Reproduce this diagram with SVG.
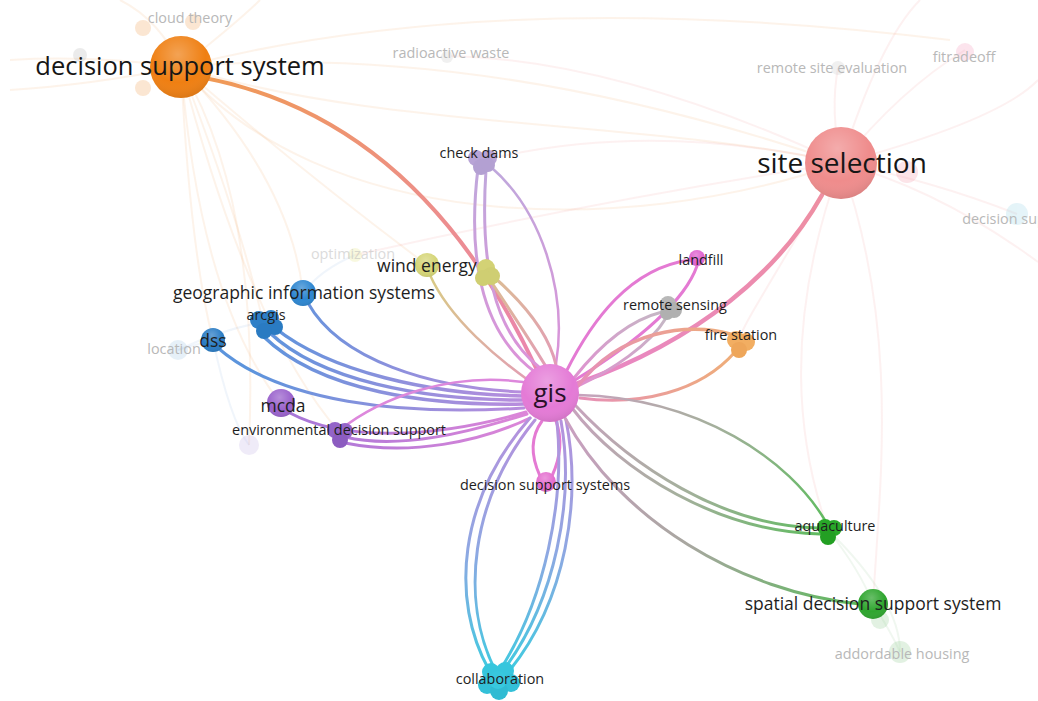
<svg xmlns="http://www.w3.org/2000/svg" width="1038" height="701" viewBox="0 0 1038 701">
<style>
text{font-family:"Open Sans","Noto Sans","Liberation Sans",sans-serif;text-anchor:middle}
.s{font-size:14.4px;fill:#1e1e1e}
.m{font-size:17.5px;fill:#1e1e1e}
.l{font-size:25.5px;fill:#161616}
.f{font-size:14.4px;fill:#b8b8b8}
.e{fill:none;stroke-linecap:round}
.bg{fill:none;stroke-width:2;opacity:.12}
.fn{opacity:.28}
.sh{fill:url(#shine)}
</style>
<defs>
<radialGradient id="shine" cx="0.45" cy="0.3" r="0.75">
<stop offset="0" stop-color="#fff" stop-opacity="0.28"/>
<stop offset="0.6" stop-color="#fff" stop-opacity="0"/>
<stop offset="1" stop-color="#000" stop-opacity="0.12"/>
</radialGradient>
<linearGradient id="gOr" gradientUnits="userSpaceOnUse" x1="205" y1="78" x2="536" y2="368"><stop offset="0" stop-color="#f09a55"/><stop offset="1" stop-color="#ea86b0"/></linearGradient>
<linearGradient id="gSite" gradientUnits="userSpaceOnUse" x1="822" y1="195" x2="578" y2="383"><stop offset="0" stop-color="#ee8fa2"/><stop offset="1" stop-color="#e886c6"/></linearGradient>
<linearGradient id="gBlue" gradientUnits="userSpaceOnUse" x1="260" y1="330" x2="525" y2="400"><stop offset="0" stop-color="#5c94dc"/><stop offset="1" stop-color="#b98ddd"/></linearGradient>
<linearGradient id="gPur" gradientUnits="userSpaceOnUse" x1="290" y1="420" x2="528" y2="405"><stop offset="0" stop-color="#a777d8"/><stop offset="1" stop-color="#dd86d8"/></linearGradient>
<linearGradient id="gCol" gradientUnits="userSpaceOnUse" x1="0" y1="425" x2="0" y2="675"><stop offset="0" stop-color="#b492dd"/><stop offset="0.5" stop-color="#8fa7e2"/><stop offset="1" stop-color="#3ecbe0"/></linearGradient>
<linearGradient id="gAq" gradientUnits="userSpaceOnUse" x1="575" y1="405" x2="825" y2="530"><stop offset="0" stop-color="#c7a3bd"/><stop offset="0.5" stop-color="#a3b09b"/><stop offset="1" stop-color="#5fbb5f"/></linearGradient>
<linearGradient id="gSp" gradientUnits="userSpaceOnUse" x1="565" y1="418" x2="860" y2="604"><stop offset="0" stop-color="#cb9fc2"/><stop offset="0.5" stop-color="#a7a79f"/><stop offset="1" stop-color="#5cb95c"/></linearGradient>
<linearGradient id="gCD" gradientUnits="userSpaceOnUse" x1="0" y1="165" x2="0" y2="370"><stop offset="0" stop-color="#bfa8dc"/><stop offset="1" stop-color="#dc92d8"/></linearGradient>
<linearGradient id="gWE" gradientUnits="userSpaceOnUse" x1="430" y1="270" x2="550" y2="380"><stop offset="0" stop-color="#d8cc84"/><stop offset="1" stop-color="#e39ab8"/></linearGradient>
<linearGradient id="gFS" gradientUnits="userSpaceOnUse" x1="735" y1="0" x2="578" y2="0"><stop offset="0" stop-color="#efae78"/><stop offset="1" stop-color="#e68fb8"/></linearGradient>
<linearGradient id="gRS" gradientUnits="userSpaceOnUse" x1="665" y1="310" x2="575" y2="385"><stop offset="0" stop-color="#c4b8c4"/><stop offset="1" stop-color="#e090d0"/></linearGradient>
</defs>

<g id="background-links">
<path class="bg" stroke="#f0a050" d="M181 67 Q 500 -15 950 40"/>
<path class="bg" stroke="#f0a050" d="M181 67 Q 480 40 841 163"/>
<path class="bg" stroke="#f0a050" d="M181 67 C 320 230, 620 240, 841 163"/>
<path class="bg" stroke="#f0a050" d="M181 67 C 380 130, 650 120, 841 163"/>
<path class="bg" stroke="#f0a050" d="M181 67 Q 190 250 213 340"/>
<path class="bg" stroke="#f0a050" d="M181 67 Q 240 220 263 322"/>
<path class="bg" stroke="#f0a050" d="M181 67 Q 290 180 303 293"/>
<path class="bg" stroke="#f0a050" d="M181 67 Q 200 300 281 404"/>
<path class="bg" stroke="#f0a050" d="M181 67 Q 250 330 340 433"/>
<path class="bg" stroke="#f0a050" d="M181 67 Q 300 170 427 265"/>
<path class="bg" stroke="#f0a050" d="M181 67 Q 90 55 10 60"/>
<path class="bg" stroke="#f0a050" d="M181 67 Q 90 85 10 90"/>
<path class="bg" stroke="#f0a050" d="M181 67 Q 160 20 120 0"/>
<path class="bg" stroke="#f0a050" d="M181 67 Q 240 20 260 0"/>
<path class="bg" stroke="#f0a050" d="M181 67 Q 260 200 249 445"/>
<path class="bg" stroke="#ee8a8a" d="M841 163 Q 940 190 1038 262"/>
<path class="bg" stroke="#ee8a8a" d="M841 163 Q 900 90 965 50"/>
<path class="bg" stroke="#ee8a8a" d="M841 163 Q 830 110 838 68"/>
<path class="bg" stroke="#ee8a8a" d="M841 163 Q 930 180 1017 214"/>
<path class="bg" stroke="#ee8a8a" d="M841 163 Q 880 40 920 0"/>
<path class="bg" stroke="#ee8a8a" d="M841 163 Q 1000 120 1038 80"/>
<path class="bg" stroke="#ee8a8a" d="M841 163 C 780 330, 800 450, 828 530"/>
<path class="bg" stroke="#ee8a8a" d="M841 163 C 900 330, 880 480, 873 604"/>
<path class="bg" stroke="#ee8a8a" d="M841 163 C 760 300, 740 330, 739 341"/>
<path class="bg" stroke="#ee8a8a" d="M841 163 Q 620 60 451 56"/>
<path class="bg" stroke="#ee8a8a" d="M841 163 Q 600 200 355 255"/>
<path class="bg" stroke="#ee8a8a" d="M841 163 Q 650 120 485 160"/>
<path class="bg" stroke="#80c080" d="M828 530 Q 860 570 873 604"/>
<path class="bg" stroke="#80c080" d="M828 530 Q 900 600 900 652"/>
<path class="bg" stroke="#80c080" d="M873 604 Q 890 630 900 652"/>
<path class="bg" stroke="#80b0e0" d="M213 340 Q 195 345 178 350"/>
<path class="bg" stroke="#80b0e0" d="M263 322 Q 220 330 178 350"/>
<path class="bg" stroke="#80b0e0" d="M303 293 Q 320 270 355 255"/>
<path class="bg" stroke="#80b0e0" d="M213 340 Q 230 420 249 445"/>
</g>

<g id="links">
<path class="e" stroke="url(#gOr)" stroke-width="4" d="M205 78 Q 420 120 536 368"/>
<path class="e" stroke="url(#gSite)" stroke-width="4.5" d="M822 195 C 780 270, 700 340, 578 383"/>
<path class="e" stroke="url(#gCD)" stroke-width="3" d="M478 168 C 468 250, 478 330, 535 372"/>
<path class="e" stroke="url(#gCD)" stroke-width="3" d="M486 170 C 480 260, 492 330, 540 368"/>
<path class="e" stroke="url(#gCD)" stroke-width="2.5" d="M492 168 C 540 210, 568 290, 556 364"/>
<path class="e" stroke="url(#gWE)" stroke-width="2.5" d="M430 275 C 450 320, 500 360, 528 380"/>
<path class="e" stroke="url(#gWE)" stroke-width="3" d="M490 280 C 510 310, 530 340, 545 365"/>
<path class="e" stroke="url(#gWE)" stroke-width="3" d="M495 278 C 520 300, 548 330, 556 365"/>
<path class="e" stroke="url(#gBlue)" stroke-width="3" d="M308 303 C 340 360, 430 388, 522 392"/>
<path class="e" stroke="url(#gBlue)" stroke-width="3.5" d="M275 328 C 330 372, 430 394, 523 396"/>
<path class="e" stroke="url(#gBlue)" stroke-width="3.5" d="M270 333 C 320 380, 420 400, 522 400"/>
<path class="e" stroke="url(#gBlue)" stroke-width="3.5" d="M263 336 C 320 392, 430 406, 524 404"/>
<path class="e" stroke="url(#gBlue)" stroke-width="3" d="M218 348 C 280 402, 400 416, 524 408"/>
<path class="e" stroke="url(#gPur)" stroke-width="3" d="M290 413 C 340 440, 430 440, 526 412"/>
<path class="e" stroke="url(#gPur)" stroke-width="3" d="M345 437 C 400 450, 470 432, 527 414"/>
<path class="e" stroke="url(#gPur)" stroke-width="3" d="M345 443 C 410 456, 480 442, 530 418"/>
<path class="e" stroke="#dd88dc" stroke-width="2.5" d="M523 382 C 450 372, 380 398, 340 430"/>
<path class="e" stroke="#e47ad3" stroke-width="3" d="M690 260 C 630 268, 592 320, 566 372"/>
<path class="e" stroke="#e47ad3" stroke-width="3" d="M697 266 C 685 300, 640 340, 575 380"/>
<path class="e" stroke="url(#gRS)" stroke-width="3" d="M662 312 C 630 320, 600 345, 574 378"/>
<path class="e" stroke="url(#gRS)" stroke-width="3" d="M666 318 C 650 345, 612 370, 578 386"/>
<path class="e" stroke="url(#gFS)" stroke-width="3.5" d="M730 334 C 690 322, 620 330, 578 386"/>
<path class="e" stroke="url(#gFS)" stroke-width="3" d="M735 352 C 700 392, 640 406, 580 398"/>
<path class="e" stroke="#e47ad3" stroke-width="3" d="M540 476 C 528 450, 534 432, 542 421"/>
<path class="e" stroke="#e47ad3" stroke-width="3" d="M552 476 C 564 450, 560 432, 556 421"/>
<path class="e" stroke="url(#gCol)" stroke-width="3" d="M489 670 C 450 600, 458 500, 530 418"/>
<path class="e" stroke="url(#gCol)" stroke-width="3" d="M495 670 C 460 600, 470 500, 535 420"/>
<path class="e" stroke="url(#gCol)" stroke-width="3" d="M500 670 C 545 600, 565 500, 557 422"/>
<path class="e" stroke="url(#gCol)" stroke-width="3" d="M505 668 C 555 600, 575 500, 561 421"/>
<path class="e" stroke="url(#gCol)" stroke-width="3" d="M510 670 C 566 600, 582 500, 566 420"/>
<path class="e" stroke="url(#gAq)" stroke-width="3" d="M572 408 C 620 472, 720 532, 820 534"/>
<path class="e" stroke="url(#gAq)" stroke-width="3" d="M575 405 C 632 466, 722 526, 818 528"/>
<path class="e" stroke="url(#gAq)" stroke-width="2.5" d="M578 395 C 700 398, 790 460, 826 522"/>
<path class="e" stroke="url(#gSp)" stroke-width="3" d="M565 418 C 620 520, 740 592, 860 604"/>
</g>

<g id="faded-nodes" class="fn">
<circle cx="143" cy="28" r="8" fill="#f4a860"/>
<circle cx="193" cy="22" r="8" fill="#f4a860"/>
<circle cx="143" cy="88" r="8" fill="#f4a860"/>
<circle cx="80" cy="55" r="7" fill="#bbbbbb"/>
<circle cx="447" cy="57" r="6" fill="#cccccc"/>
<circle cx="838" cy="68" r="7" fill="#cccccc"/>
<circle cx="965" cy="52" r="9" fill="#f5a0c0"/>
<circle cx="907" cy="172" r="11" fill="#f5a0b0"/>
<circle cx="1017" cy="214" r="11" fill="#a0d8e8"/>
<circle cx="355" cy="255" r="7" fill="#e8e890"/>
<circle cx="178" cy="350" r="10" fill="#a8cce8"/>
<circle cx="249" cy="445" r="10" fill="#c8b8e8"/>
<circle cx="900" cy="652" r="11" fill="#98d098"/>
<circle cx="880" cy="620" r="9" fill="#98d098"/>
</g>

<g id="faded-labels">
<text class="f" x="190" y="23">cloud theory</text>
<text class="f" x="451" y="58">radioactive waste</text>
<text class="f" x="832" y="73">remote site evaluation</text>
<text class="f" x="964" y="62">fitradeoff</text>
<text class="f" x="1004" y="224">decision sup</text>
<text class="f" x="174" y="354">location</text>
<text class="f" x="353" y="259" opacity="0.5">optimization</text>
<text class="f" x="902" y="659">addordable housing</text>
</g>

<g id="node-dss-main">
<circle cx="181" cy="67" r="31" fill="#ef7f12"/><circle class="sh" cx="181" cy="67" r="31"/>
<text class="l" x="180" y="75">decision support system</text>
</g>
<g id="node-site-selection">
<circle cx="841" cy="163" r="36" fill="#ef8c8c"/><circle class="sh" cx="841" cy="163" r="36"/>
<text class="l" x="842" y="173" style="font-size:28px">site selection</text>
</g>
<g id="node-check-dams">
<circle cx="476" cy="158" r="8" fill="#b8a4d6"/><circle cx="489" cy="158" r="8" fill="#b8a4d6"/><circle cx="481" cy="167" r="8" fill="#b3a0d2"/><circle cx="488" cy="165" r="7" fill="#b3a0d2"/>
<text class="s" x="479" y="158">check dams</text>
</g>
<g id="node-wind-energy">
<circle cx="427" cy="265" r="12" fill="#d5d577"/><circle class="sh" cx="427" cy="265" r="12"/>
<circle cx="486" cy="268" r="9" fill="#d3d275"/><circle cx="491" cy="276" r="9" fill="#cfce72"/><circle cx="483" cy="278" r="8" fill="#cfce72"/>
<text class="m" x="427" y="272">wind energy</text>
</g>
<g id="node-geographic-information-systems">
<circle cx="303" cy="293" r="13" fill="#2d86d0"/><circle class="sh" cx="303" cy="293" r="13"/>
<text class="m" x="304" y="299">geographic information systems</text>
</g>
<g id="node-arcgis">
<circle cx="259" cy="320" r="9" fill="#2e80c8"/><circle cx="271" cy="318" r="8" fill="#2e80c8"/><circle cx="275" cy="327" r="8" fill="#2a7bc2"/><circle cx="264" cy="331" r="8" fill="#2a7bc2"/>
<text class="s" x="266" y="320">arcgis</text>
</g>
<g id="node-dss">
<circle cx="213" cy="340" r="12" fill="#2a7cc4"/><circle class="sh" cx="213" cy="340" r="12"/>
<text class="m" x="213" y="347">dss</text>
</g>
<g id="node-mcda">
<circle cx="281" cy="403" r="14" fill="#9a62cc"/><circle class="sh" cx="281" cy="403" r="14"/>
<text class="m" x="283" y="412">mcda</text>
</g>
<g id="node-environmental-decision-support">
<circle cx="335" cy="430" r="8" fill="#9464c8"/><circle cx="345" cy="431" r="8" fill="#9464c8"/><circle cx="340" cy="440" r="8" fill="#8c5cc0"/>
<text class="s" x="339" y="435">environmental decision support</text>
</g>
<g id="node-gis">
<circle cx="550" cy="393" r="29" fill="#e47ad6"/><circle class="sh" cx="550" cy="393" r="29"/>
<text x="550" y="402" style="font-size:26px;fill:#2a1028">gis</text>
</g>
<g id="node-landfill">
<circle cx="697" cy="258" r="8" fill="#e063d0"/><circle class="sh" cx="697" cy="258" r="8"/>
<text class="s" x="701" y="265">landfill</text>
</g>
<g id="node-remote-sensing">
<circle cx="668" cy="304" r="8" fill="#b8b8b8"/><circle cx="674" cy="310" r="8" fill="#b0b0b0"/><circle cx="667" cy="313" r="7" fill="#b0b0b0"/>
<text class="s" x="675" y="310">remote sensing</text>
</g>
<g id="node-fire-station">
<circle cx="736" cy="340" r="9" fill="#f2ae62"/><circle cx="746" cy="342" r="9" fill="#f2ae62"/><circle cx="739" cy="350" r="8" fill="#eea65a"/>
<text class="s" x="741" y="340">fire station</text>
</g>
<g id="node-decision-support-systems">
<circle cx="546" cy="482" r="10" fill="#e46ecf"/><circle class="sh" cx="546" cy="482" r="10"/>
<text class="s" x="545" y="490">decision support systems</text>
</g>
<g id="node-aquaculture">
<circle cx="825" cy="527" r="8" fill="#29a829"/><circle cx="834" cy="528" r="8" fill="#29a829"/><circle cx="828" cy="537" r="8" fill="#239f23"/>
<text class="s" x="835" y="531">aquaculture</text>
</g>
<g id="node-spatial-decision-support-system">
<circle cx="873" cy="604" r="15" fill="#2ea52e"/><circle class="sh" cx="873" cy="604" r="15"/>
<text class="m" x="873" y="610">spatial decision support system</text>
</g>
<g id="node-collaboration">
<circle cx="491" cy="672" r="9" fill="#36c6dd"/><circle cx="505" cy="671" r="9" fill="#36c6dd"/><circle cx="511" cy="683" r="9" fill="#33c0d8"/><circle cx="487" cy="685" r="9" fill="#33c0d8"/><circle cx="499" cy="691" r="9" fill="#30bbd3"/><circle cx="498" cy="680" r="9" fill="#38c8de"/>
<text class="s" x="500" y="684">collaboration</text>
</g>
</svg>
